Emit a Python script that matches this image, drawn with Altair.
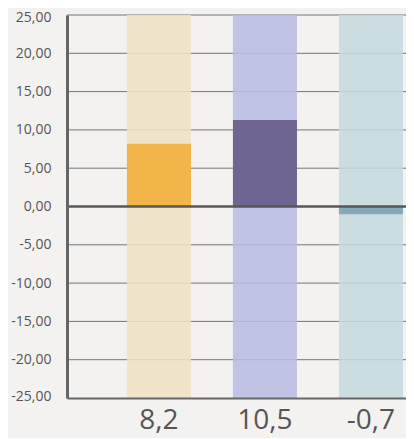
import altair as alt
import pandas as pd

# ---- data ----
labels = ["8,2", "10,5", "-0,7"]
values = [8.2, 11.3, -1.0]
fg_colors = ["#f2b54a", "#706491", "#86a9b8"]
bg_colors = ["#efe2c4", "#b8bce2", "#c5d9de"]
y_min, y_max = -25, 25
tick_values = [-25, -20, -15, -10, -5, 0, 5, 10, 15, 20, 25]
grid_values = [25, 20, 15, 10, 5, -5, -10, -15, -20]

W, H = 339, 383
FONT = "Open Sans"

bars = pd.DataFrame({"label": labels, "value": values,
                     "lo": [y_min] * len(labels), "hi": [y_max] * len(labels)})
grid = pd.DataFrame({"v": grid_values})
zero = pd.DataFrame({"v": [0]})

xscale = alt.Scale(domain=labels, paddingInner=0.396, paddingOuter=0.297, align=0.952)
yscale = alt.Scale(domain=[y_min, y_max], nice=False, zero=False)

x_axis = alt.Axis(title=None, labelAngle=0, ticks=False, domain=True, domainColor="#666666",
                  domainWidth=2.2, labelFont=FONT, labelFontSize=28, labelColor="#555555",
                  labelBaseline="alphabetic", labelPadding=30, zindex=2, grid=False)
y_axis = alt.Axis(title=None, values=tick_values, ticks=False, domain=True, domainColor="#666666",
                  domainWidth=3, labelFont=FONT, labelFontSize=14, labelColor="#555555",
                  labelPadding=16, labelFlush=True, labelFlushOffset=5, zindex=2, grid=False,
                  labelExpr="replace(replace(format(datum.value, '.2f'), '.', ','), '\u2212', '-')")

grid_layer = alt.Chart(grid).mark_rule(color="#757575", strokeWidth=1).encode(
    y=alt.Y("v:Q", scale=yscale, axis=y_axis)
)

bg_layer = alt.Chart(bars).mark_bar(opacity=0.88).encode(
    x=alt.X("label:N", scale=xscale, axis=x_axis, sort=labels),
    y=alt.Y("lo:Q", scale=yscale, axis=y_axis),
    y2="hi:Q",
    color=alt.Color("label:N", scale=alt.Scale(domain=labels, range=bg_colors), legend=None),
)

fg_layer = alt.Chart(bars).mark_bar(opacity=1).encode(
    x=alt.X("label:N", scale=xscale, axis=x_axis, sort=labels),
    y=alt.Y("value:Q", scale=yscale, axis=y_axis),
    y2=alt.datum(0),
    color=alt.Color("label:N", scale=alt.Scale(domain=labels, range=fg_colors), legend=None),
)

zero_layer = alt.Chart(zero).mark_rule(color="#575757", strokeWidth=2.4).encode(
    y=alt.Y("v:Q", scale=yscale, axis=y_axis)
)

chart = alt.layer(grid_layer, bg_layer, fg_layer, zero_layer).resolve_scale(
    color="independent"
).properties(
    width=W, height=H,
    background="#f3f2f0",
    padding={"left": 59, "top": 7, "right": 0, "bottom": 40},
    autosize=alt.AutoSizeParams(type="none"),
).configure_view(stroke=None).configure_axisX(
    labelFontSize=28, labelFont=FONT, labelColor="#555555", labelBaseline="alphabetic"
).configure_axisY(
    labelFontSize=14, labelFont=FONT, labelColor="#555555"
)

chart.save("out.html", embed_options={"renderer": "svg", "actions": False})
